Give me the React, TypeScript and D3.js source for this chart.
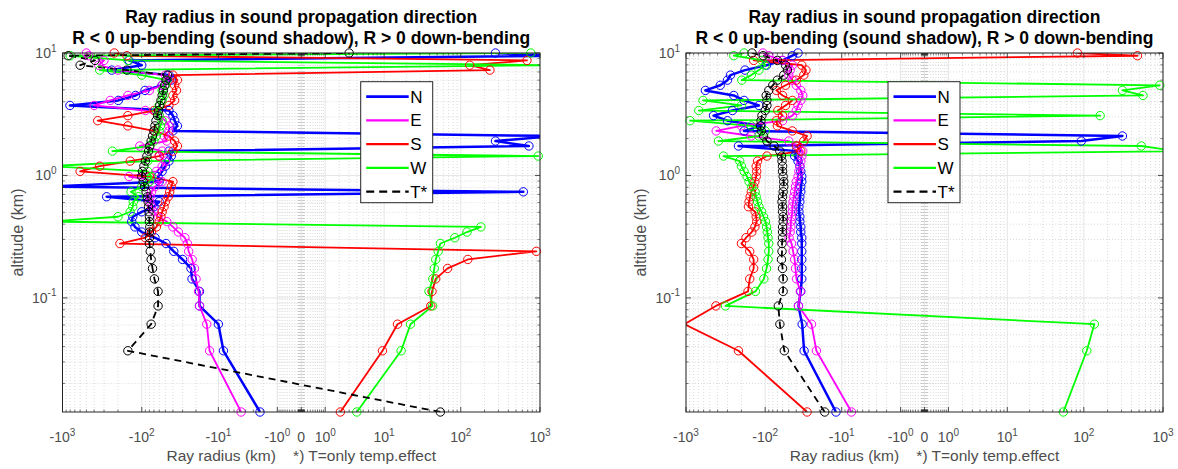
import React from "react";
import * as d3 from "d3";

// ---------- data ----------
const altitudes = [0.0117, 0.037, 0.061, 0.086, 0.113, 0.143, 0.174, 0.206, 0.24, 0.278, 0.31, 0.345, 0.38, 0.42, 0.46, 0.505, 0.555, 0.61, 0.67, 0.735, 0.81, 0.89, 0.98, 1.08, 1.19, 1.31, 1.44, 1.58, 1.74, 1.91, 2.1, 2.31, 2.54, 2.8, 3.08, 3.39, 3.73, 4.1, 4.5, 4.95, 5.45, 6.0, 6.6, 7.25, 7.95, 8.7, 9.5, 10.0];

// left panel
const leftN = [-2.3, -8.5, -10, -18, -18, -22.6, -23.3, -30, -39, -49, -68, -100, -122, -134, -130, -100, -70, -60, -278, 617, -1500, -60, -62, -55, -50, -45, -42, -45, 725, 275, 1500, -40, -35, -38, -40, -45, -806, -198, -120, -91, -55, -42, -45, -240, -100, -145, 1500, 275];
const leftE = [-4.7, -13.2, -14.4, -18, -18.5, -20, -21, -22.5, -25, -26, -28, -34, -40, -48, -62, -70, -75, -79, -78, -75, -68, -55, -145, -65, -55, -50, -60, -55, -106, -48, -52, -45, -45, -50, -60, -90, -400, -250, -150, -80, -55, -45, -50, -200, -350, -300, -470, -500];
const leftS = [2.1, 9.5, 15.2, 41.5, 43, 48, 68, 123, 900, -189, -90, -75, -65, -60, -57, -55, -52, -50, -46, -44, -42, -40, -80, -600, -340, -140, -60, -40, -35, -38, -45, -70, -150, -360, -150, -70, -45, -38, -40, -36, -38, -35, -40, 234, 130, 686, -154, -223];
const leftW = [4, 17, 22.6, 43.8, 39.3, 44, 46, 48, 51.6, 55, 84, 120, 180, -1500, -200, -140, -130, -128, -110, -137, -100, -80, -75, -84, -1500, -84, 950, -235, -80, -70, -65, -60, -58, -55, -60, -65, -60, -55, -52, -55, -50, -48, -100, -340, 1500, -150, -800, 765];
const leftT = [55, -150, -76, -62, -62, -69, -73, -76, -78, -80, -80, -80, -79, -80, -80, -81, -82, -83, -85, -88, -92, -96, -100, -98, -94, -90, -86, -82, -79, -76, -73, -70, -68, -66, -63, -61, -59, -57, -55, -53, -51, -49, -47, -154, -600, -390, -850, 3];

// right panel
const rightN = [-12, -31.7, -33.6, -37.5, -35, -34, -34, -34, -34, -34, -34, -35, -35, -36, -36, -37, -37, -36, -36, -35, -35, -34, -34, -35, -36, -38, -42, -40, -218, 93, 308, -185, -112, -300, -450, -260, -120, -185, -250, -570, -370, -300, -275, -180, -96, -60, -45, -38];
const rightE = [-7.3, -21.9, -25.4, -37.5, -35.5, -39.8, -41, -42, -44, -46, -49.5, -48, -47, -47, -46, -45, -45, -44, -43, -42, -41, -40, -38, -37, -36, -35, -34, -33, -38, -50, -150, -416, -200, -60, -45, -40, -38, -35, -33, -35, -40, -45, -50, -48, -45, -60, -90, -107];
const rightS = [-29, -218, -1050, -420, -165, -157, -140, -140, -157, -200, -175, -148, -135, -128, -130, -134, -163, -160, -155, -150, -140, -135, -130, -128, -130, -125, -95, -35, -40, -32, -29, -45, -70, -72, -60, -69, -55, -45, -60, -72, -55, -40, -32, -30, -34, -140, 477, 83];
const rightW = [54.8, 109, 136, -318, -133, -104, -96, -92, -90, -90, -92, -94, -96, -99, -105, -111, -120, -125, -130, -134, -148, -160, -170, -185, -200, -210, -337, 1500, 533, -390, -120, -100, -150, -890, 161, -690, -200, -610, 560, 308, 910, -198, -150, -120, -100, -110, -250, -185];
const rightT = [-17, -57, -65, -68, -59, -59, -60, -62, -61, -61, -60, -60, -60, -59, -59, -60, -60, -61, -60, -59, -58, -58, -59, -60, -60, -61, -62, -65, -77, -95, -105, -112, -115, -113, -110, -100, -95, -95, -97, -90, -80, -70, -58, -52, -55, -70, -106, -147];

const seriesNames = ["N", "E", "S", "W", "T*"];
const seriesColors = ["#0000ff", "#ff00ff", "#ff0000", "#00ff00", "#000000"];

const xTickValues = [-1000, -100, -10, -1, 0, 1, 10, 100, 1000];
const xTickLabels: [string, string][] = [["-10", "3"], ["-10", "2"], ["-10", "1"], ["-10", "0"], ["0", ""], ["10", "0"], ["10", "1"], ["10", "2"], ["10", "3"]];
const yTickValues = [0.1, 1, 10];
const yTickLabels: [string, string][] = [["10", "-1"], ["10", "0"], ["10", "1"]];

const titleLines = ["Ray radius in sound propagation direction", "R < 0 up-bending (sound shadow), R > 0 down-bending"];
const xLabelText = "Ray radius (km)    *) T=only temp.effect";
const yLabelText = "altitude (km)";

// ---------- layout ----------
const W = 1178;
const H = 469;
const TOP = 53;
const BOTTOM = 412;
const Y_MIN = 0.0117;
const Y_MAX = 10;
const FONT = "'Liberation Sans', Arial, Helvetica, sans-serif";
const AXIS_COLOR = "#262626";
const TICK_TEXT = "#4d4d4d";

const panels = [
  { left: 62.5, right: 540, legendX: 360.7, data: [leftN, leftE, leftS, leftW, leftT] },
  { left: 686, right: 1163, legendX: 888, data: [rightN, rightE, rightS, rightW, rightT] },
];

const xMinor: number[] = [];
for (let n = -2; n <= 2; n++) {
  for (let k = 1; k <= 9; k++) {
    const v = k * Math.pow(10, n);
    if (v === 1 || v === 10 || v === 100) continue;
    xMinor.push(v, -v);
  }
}
const yMinor: number[] = [];
for (let n = -2; n <= 0; n++) {
  for (let k = 2; k <= 9; k++) {
    const v = k * Math.pow(10, n);
    if (v > Y_MIN) yMinor.push(v);
  }
}

function Panel({ p, idx }: { p: typeof panels[0]; idx: number }) {
  const x = d3.scaleSymlog().constant(1).domain([-1000, 1000]).range([p.left, p.right]);
  const y = d3.scaleLog().domain([Y_MIN, Y_MAX]).range([BOTTOM, TOP]);
  const line = d3
    .line<[number, number]>()
    .x((d) => x(d[0]))
    .y((d) => y(d[1]));
  const clipId = `clip${idx}`;
  const cx = (p.left + p.right) / 2;
  const widths = [2.5, 1.8, 1.8, 1.8, 1.8];

  return (
    <g>
      <defs>
        <clipPath id={clipId}>
          <rect x={p.left} y={TOP} width={p.right - p.left} height={BOTTOM - TOP} />
        </clipPath>
      </defs>
      <rect x={p.left} y={TOP} width={p.right - p.left} height={BOTTOM - TOP} fill="#ffffff" />
      {/* minor grid */}
      {xMinor.map((v, i) => (
        <line key={"xm" + i} x1={x(v)} x2={x(v)} y1={TOP} y2={BOTTOM} stroke="#c4c4c4" strokeWidth={0.6} strokeDasharray="1,2" />
      ))}
      {yMinor.map((v, i) => (
        <line key={"ym" + i} x1={p.left} x2={p.right} y1={y(v)} y2={y(v)} stroke="#c4c4c4" strokeWidth={0.6} strokeDasharray="1,2" />
      ))}
      {/* major grid */}
      {xTickValues.map((v, i) => (
        <line key={"xg" + i} x1={x(v)} x2={x(v)} y1={TOP} y2={BOTTOM} stroke="#dedede" strokeWidth={0.8} />
      ))}
      {yTickValues.map((v, i) => (
        <line key={"yg" + i} x1={p.left} x2={p.right} y1={y(v)} y2={y(v)} stroke="#dedede" strokeWidth={0.8} />
      ))}
      {/* series */}
      <g clipPath={`url(#${clipId})`}>
        {p.data.map((vals, si) => {
          const pts: [number, number][] = vals.map((r, i) => [r, altitudes[i]]);
          return (
            <path
              key={"l" + si}
              d={line(pts) || ""}
              fill="none"
              stroke={seriesColors[si]}
              strokeWidth={widths[si]}
              strokeDasharray={si === 4 ? "7,5" : undefined}
              strokeLinejoin="round"
            />
          );
        })}
      </g>
      {p.data.map((vals, si) => (
        <g key={"m" + si}>
          {vals.map((r, i) =>
            Math.abs(r) <= 1000 ? (
              <circle key={i} cx={x(r)} cy={y(altitudes[i])} r={4.2} fill="none" stroke={seriesColors[si]} strokeWidth={1} />
            ) : null
          )}
        </g>
      ))}
      {/* ticks */}
      {xMinor.map((v, i) => (
        <g key={"xmt" + i} stroke={AXIS_COLOR} strokeWidth={0.6}>
          <line x1={x(v)} x2={x(v)} y1={BOTTOM} y2={BOTTOM - 2.5} />
          <line x1={x(v)} x2={x(v)} y1={TOP} y2={TOP + 2.5} />
        </g>
      ))}
      {yMinor.map((v, i) => (
        <g key={"ymt" + i} stroke={AXIS_COLOR} strokeWidth={0.6}>
          <line x1={p.left} x2={p.left + 2.5} y1={y(v)} y2={y(v)} />
          <line x1={p.right} x2={p.right - 2.5} y1={y(v)} y2={y(v)} />
        </g>
      ))}
      {xTickValues.map((v, i) => (
        <g key={"xt" + i} stroke={AXIS_COLOR} strokeWidth={0.8}>
          <line x1={x(v)} x2={x(v)} y1={BOTTOM} y2={BOTTOM - 5} />
          <line x1={x(v)} x2={x(v)} y1={TOP} y2={TOP + 5} />
        </g>
      ))}
      {yTickValues.map((v, i) => (
        <g key={"yt" + i} stroke={AXIS_COLOR} strokeWidth={0.8}>
          <line x1={p.left} x2={p.left + 5} y1={y(v)} y2={y(v)} />
          <line x1={p.right} x2={p.right - 5} y1={y(v)} y2={y(v)} />
        </g>
      ))}
      {/* frame */}
      <rect x={p.left} y={TOP} width={p.right - p.left} height={BOTTOM - TOP} fill="none" stroke={AXIS_COLOR} strokeWidth={1} />
      {/* tick labels */}
      {xTickValues.map((v, i) => (
        <text key={"xl" + i} x={x(v)} y={442} textAnchor="middle" fontSize={14} fill={TICK_TEXT} fontFamily={FONT}>
          {xTickLabels[i][0]}
          {xTickLabels[i][1] !== "" ? (
            <tspan dy={-6.5} fontSize={10}>
              {xTickLabels[i][1]}
            </tspan>
          ) : null}
        </text>
      ))}
      {yTickValues.map((v, i) => (
        <text key={"yl" + i} x={p.left - 6} y={y(v) + 5} textAnchor="end" fontSize={14} fill={TICK_TEXT} fontFamily={FONT}>
          {yTickLabels[i][0]}
          <tspan dy={-6.5} fontSize={10}>
            {yTickLabels[i][1]}
          </tspan>
        </text>
      ))}
      {/* title */}
      {titleLines.map((t, i) => (
        <text key={"t" + i} x={cx} y={23 + i * 21} textAnchor="middle" fontSize={17.5} fontWeight="bold" fill="#000" fontFamily={FONT}>
          {t}
        </text>
      ))}
      <text x={cx} y={461} textAnchor="middle" fontSize={15.5} fill={TICK_TEXT} fontFamily={FONT} style={{ whiteSpace: "pre" }}>
        {xLabelText}
      </text>
      <text
        transform={`translate(${p.left - 40},${(TOP + BOTTOM) / 2}) rotate(-90)`}
        textAnchor="middle"
        fontSize={16}
        fill={TICK_TEXT}
        fontFamily={FONT}
      >
        {yLabelText}
      </text>
      {/* legend */}
      <g>
        <rect x={p.legendX} y={81.7} width={72} height={121} fill="#ffffff" stroke={AXIS_COLOR} strokeWidth={1} />
        {seriesNames.map((name, si) => {
          const ly = 96.7 + si * 23.75;
          return (
            <g key={"lg" + si}>
              <line
                x1={p.legendX + 5.5}
                x2={p.legendX + 48}
                y1={ly}
                y2={ly}
                stroke={seriesColors[si]}
                strokeWidth={si === 0 ? 2.8 : 2.2}
                strokeDasharray={si === 4 ? "8,5" : undefined}
              />
              <text x={p.legendX + 49.5} y={ly + 6} fontSize={17} fill="#000" fontFamily={FONT}>
                {name}
              </text>
            </g>
          );
        })}
      </g>
    </g>
  );
}

export default function App() {
  return (
    <svg
      width={W}
      height={H}
      viewBox={`0 0 ${W} ${H}`}
      style={{ position: "absolute", left: 0, top: 0, background: "#ffffff" }}
    >
      <rect x={0} y={0} width={W} height={H} fill="#ffffff" />
      {panels.map((p, i) => (
        <Panel key={i} p={p} idx={i} />
      ))}
    </svg>
  );
}
